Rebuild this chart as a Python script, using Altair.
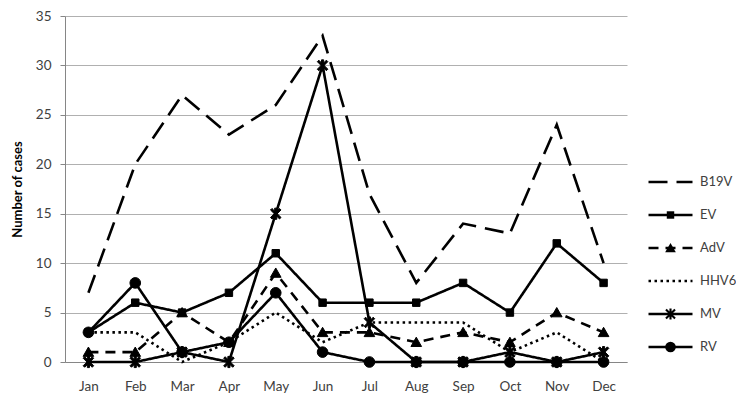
import altair as alt
import pandas as pd

months = ["Jan", "Feb", "Mar", "Apr", "May", "Jun", "Jul", "Aug", "Sep", "Oct", "Nov", "Dec"]
series_names = ["B19V", "EV", "AdV", "HHV6", "MV", "RV"]
b19v = [7, 20, 27, 23, 26, 33, 17, 8, 14, 13, 24, 10]
ev = [3, 6, 5, 7, 11, 6, 6, 6, 8, 5, 12, 8]
adv = [1, 1, 5, 2, 9, 3, 3, 2, 3, 2, 5, 3]
hhv6 = [3, 3, 0, 2, 5, 2, 4, 4, 4, 1, 3, 0]
mv = [0, 0, 1, 0, 15, 30, 4, 0, 0, 1, 0, 1]
rv = [3, 8, 1, 2, 7, 1, 0, 0, 0, 0, 0, 0]
y_ticks = [0, 5, 10, 15, 20, 25, 30, 35]

rows = []
for name, vals in zip(series_names, [b19v, ev, adv, hhv6, mv, rv]):
    for m, v in zip(months, vals):
        rows.append({"month": m, "series": name, "mk": name, "cases": v})
df = pd.DataFrame(rows)

dashes = [[19, 9], [1, 0], [10, 7], [2.5, 3.5], [1, 0], [1, 0]]
widths = [2.6, 2.6, 2.6, 2.6, 1.5, 1.5]
EMPTY = "M0,0"
SQUARE = "M-0.7,-0.7L0.7,-0.7L0.7,0.7L-0.7,0.7Z"
TRI = "M0,-0.95L1,0.8L-1,0.8Z"
STAR = ("M-0.2,-1.05L0.2,-1.05L0.2,1.05L-0.2,1.05Z"
        "M-0.709,-0.991L0.991,0.709L0.709,0.991L-0.991,-0.709Z"
        "M-0.991,0.709L0.709,-0.991L0.991,-0.709L-0.709,0.991Z")
shapes = [EMPTY, SQUARE, TRI, EMPTY, STAR, "circle"]

FONT = "Lato"

x_enc = alt.X(
    "month:N", sort=months,
    scale=alt.Scale(type="point", padding=0.5),
    axis=alt.Axis(title=None, labelAngle=0, ticks=False, labelPadding=17,
                  domainColor="#868686", grid=False),
)
y_enc = alt.Y(
    "cases:Q",
    scale=alt.Scale(domain=[0, 35], nice=False),
    axis=alt.Axis(title="Number of cases", values=y_ticks, tickSize=5,
                  tickColor="#868686", domainColor="#868686", labelPadding=9,
                  gridColor="#B0B0B0", titlePadding=11, titleFontWeight="bold",
                  titleFontSize=13, titleColor="#000000"),
)

base = alt.Chart(df)

lines = base.mark_line(color="black", strokeCap="butt", strokeJoin="miter").encode(
    x=x_enc,
    y=y_enc,
    strokeDash=alt.StrokeDash(
        "series:N",
        scale=alt.Scale(domain=series_names, range=dashes),
        legend=alt.Legend(
            title=None, orient="none", legendX=582, legendY=159, padding=0,
            symbolType="stroke", symbolSize=1936, symbolStrokeWidth=2.5,
            symbolStrokeColor="black", labelFontSize=13, labelOffset=6,
            clipHeight=14, rowPadding=19, labelColor="#404040", labelFont=FONT,
        ),
    ),
    strokeWidth=alt.StrokeWidth(
        "series:N", scale=alt.Scale(domain=series_names, range=widths), legend=None
    ),
)

points = base.mark_point(
    filled=True, color="black", stroke="black", strokeWidth=1, opacity=1, size=113
).encode(
    x=x_enc,
    y=y_enc,
    shape=alt.Shape(
        "mk:N", sort=series_names,
        scale=alt.Scale(range=shapes),
        legend=alt.Legend(
            title=None, orient="none", legendX=599, legendY=159, padding=0,
            symbolSize=113, symbolFillColor="black", symbolStrokeColor="black",
            symbolStrokeWidth=1, symbolOpacity=1, labelFontSize=13,
            labelExpr="''", labelOffset=0,
            clipHeight=14, rowPadding=19, labelFont=FONT,
        ),
    ),
)

chart = alt.layer(lines, points).properties(
    width=562, height=346,
    autosize=alt.AutoSizeParams(type="none"),
    padding={"left": 57, "top": 8, "right": 109, "bottom": 32},
).configure_axis(
    labelFont=FONT, labelFontSize=13.5, labelColor="#404040", titleFont=FONT,
).configure_view(stroke=None)

chart.save("out.html", embed_options={"renderer": "svg", "actions": False})
